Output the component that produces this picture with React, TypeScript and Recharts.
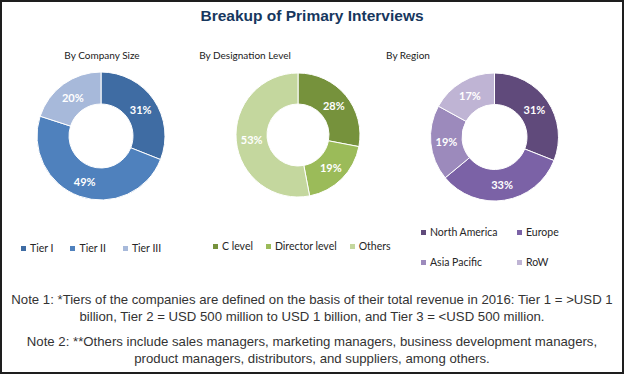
import React from "react";
import { PieChart, Pie, Cell } from "recharts";

const TITLE = "Breakup of Primary Interviews";

const companyLabels = ["Tier I", "Tier II", "Tier III"];
const companyValues = [31, 49, 20];
const companyColors = ["#3F6CA3", "#4F81BD", "#A7B9DA"];

const designationLabels = ["C level", "Director level", "Others"];
const designationValues = [28, 19, 53];
const designationColors = ["#76923C", "#9BBB59", "#C4D79E"];

const regionLabels = ["North America", "Europe", "Asia Pacific", "RoW"];
const regionValues = [31, 33, 19, 17];
const regionColors = ["#604A7B", "#7B62A6", "#9C8ABC", "#BFB4D4"];

const subtitles = ["By Company Size", "By Designation Level", "By Region"];

const note1Lines = [
  "Note 1: *Tiers of the companies are defined on the basis of their total revenue in 2016: Tier 1 = >USD 1",
  "billion, Tier 2 = USD 500 million to USD 1 billion, and Tier 3 = <USD 500 million.",
];
const note2Lines = [
  "Note 2: **Others include sales managers, marketing managers, business development managers,",
  "product managers, distributors, and suppliers, among others.",
];

const build = (labels: string[], values: number[]) =>
  labels.map((name, i) => ({ name, value: values[i] }));

const RAD = Math.PI / 180;
const renderLabel = (props: any) => {
  const { cx, cy, midAngle, innerRadius, outerRadius, value } = props;
  const r = (innerRadius + outerRadius) / 2;
  const x = cx + r * Math.cos(-midAngle * RAD);
  const y = cy + r * Math.sin(-midAngle * RAD);
  return (
    <text
      x={x}
      y={y}
      fill="#FFFFFF"
      textAnchor="middle"
      dominantBaseline="central"
      fontFamily="Lato, 'Open Sans', sans-serif"
      fontWeight={700}
      fontSize={11}
    >
      {`${value}%`}
    </text>
  );
};

const uiFont = "Lato, 'Open Sans', sans-serif";

const Marker = ({ color }: { color: string }) => (
  <span
    style={{
      display: "inline-block",
      width: 5,
      height: 5,
      background: color,
      marginRight: 4,
    }}
  />
);

export default function App() {
  const pies = [
    { data: build(companyLabels, companyValues), colors: companyColors, cx: 96, cy: 131, ir: 32, or: 64 },
    { data: build(designationLabels, designationValues), colors: designationColors, cx: 293, cy: 130, ir: 31, or: 62 },
    { data: build(regionLabels, regionValues), colors: regionColors, cx: 489.5, cy: 132, ir: 32.5, or: 64 },
  ];
  const subtitleX = [102, 245, 408];

  return (
    <div
      style={{
        position: "absolute",
        left: 0,
        top: 0,
        width: 624,
        height: 374,
        boxSizing: "border-box",
        border: "2px solid #1E1E1E",
        background: "#FFFFFF",
        overflow: "hidden",
      }}
    >
      <div style={{ position: "absolute", left: -2, top: -2, width: 624, height: 374 }}>
        <div
          style={{
            position: "absolute",
            left: 0,
            width: 624,
            top: 6,
            textAlign: "center",
            fontFamily: "'Liberation Sans', Arial, sans-serif",
            fontWeight: 700,
            fontSize: 15.5,
            color: "#17375E",
            lineHeight: "20px",
          }}
        >
          {TITLE}
        </div>

        {subtitles.map((s, i) => (
          <div
            key={s}
            style={{
              position: "absolute",
              left: subtitleX[i] - 80,
              width: 160,
              top: 48,
              textAlign: "center",
              fontFamily: uiFont,
              fontSize: 10,
              color: "#1A1A1A",
              lineHeight: "14px",
            }}
          >
            {s}
          </div>
        ))}

        <div style={{ position: "absolute", left: 0, top: 0 }}>
          <PieChart width={624} height={230}>
            {pies.map((p, k) => (
              <Pie
                key={k}
                data={p.data}
                dataKey="value"
                nameKey="name"
                cx={p.cx}
                cy={p.cy}
                innerRadius={p.ir}
                outerRadius={p.or}
                startAngle={90}
                endAngle={-270}
                stroke="#FFFFFF"
                strokeWidth={1}
                label={renderLabel}
                labelLine={false}
                isAnimationActive={false}
              >
                {p.data.map((d, i) => (
                  <Cell key={d.name} fill={p.colors[i]} />
                ))}
              </Pie>
            ))}
          </PieChart>
        </div>

        <div
          style={{
            position: "absolute",
            left: 21,
            top: 241,
            display: "flex",
            alignItems: "center",
            fontFamily: uiFont,
            fontSize: 10.5,
            color: "#262626",
            lineHeight: "14px",
          }}
        >
          {companyLabels.map((l, i) => (
            <span key={l} style={{ display: "flex", alignItems: "center", marginRight: 17 }}>
              <Marker color={companyColors[i]} />
              {l}
            </span>
          ))}
        </div>

        <div
          style={{
            position: "absolute",
            left: 213,
            top: 239,
            display: "flex",
            alignItems: "center",
            fontFamily: uiFont,
            fontSize: 10.5,
            color: "#262626",
            lineHeight: "14px",
          }}
        >
          {designationLabels.map((l, i) => (
            <span key={l} style={{ display: "flex", alignItems: "center", marginRight: 13 }}>
              <Marker color={designationColors[i]} />
              {l}
            </span>
          ))}
        </div>

        {regionLabels.map((l, i) => (
          <div
            key={l}
            style={{
              position: "absolute",
              left: i % 2 === 0 ? 421 : 517,
              top: i < 2 ? 225 : 255,
              display: "flex",
              alignItems: "center",
              fontFamily: uiFont,
              fontSize: 10.5,
              color: "#262626",
              lineHeight: "14px",
              whiteSpace: "nowrap",
            }}
          >
            <Marker color={regionColors[i]} />
            {l}
          </div>
        ))}

        <div
          style={{
            position: "absolute",
            left: 0,
            width: 624,
            top: 292,
            textAlign: "center",
            fontFamily: "'Liberation Sans', Arial, sans-serif",
            fontSize: 13.2,
            color: "#333333",
            lineHeight: "16.5px",
            whiteSpace: "nowrap",
          }}
        >
          {note1Lines.map((t) => (
            <div key={t}>{t}</div>
          ))}
          <div style={{ height: 9 }} />
          {note2Lines.map((t) => (
            <div key={t}>{t}</div>
          ))}
        </div>
      </div>
    </div>
  );
}
